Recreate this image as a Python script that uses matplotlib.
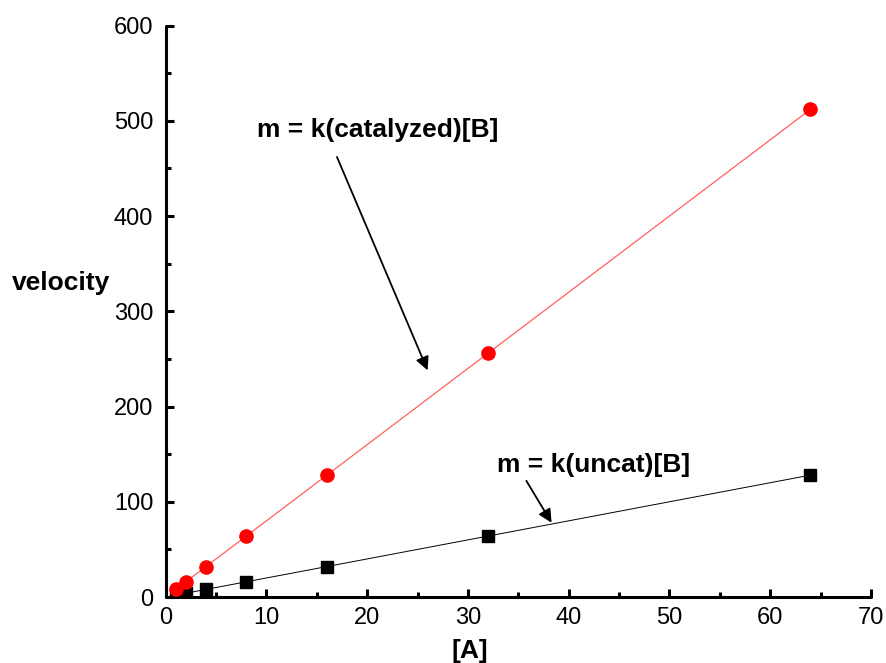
import numpy as np
import matplotlib
matplotlib.use("Agg")
import matplotlib.pyplot as plt
from matplotlib.ticker import MultipleLocator

plt.rcParams['font.family'] = ['Liberation Sans', 'DejaVu Sans']

# data
conc_a = [1, 2, 4, 8, 16, 32, 64]
v_catalyzed = [8, 16, 32, 64, 128, 256, 512]
v_uncat = [2, 4, 8, 16, 32, 64, 128]

fig = plt.figure(figsize=(8.86, 6.63), dpi=100)
ax = fig.add_axes([0.187, 0.0995, 0.796, 0.862])

# linear fits
fit_cat = np.polyfit(conc_a, v_catalyzed, 1)
fit_unc = np.polyfit(conc_a, v_uncat, 1)
xs = np.array([conc_a[0], conc_a[-1]])
ax.plot(xs, np.polyval(fit_cat, xs), color='#ff6060', lw=0.9, zorder=2)
ax.plot(xs, np.polyval(fit_unc, xs), color='black', lw=0.7, zorder=2)

ax.plot(conc_a, v_uncat, 's', color='black', ms=8, zorder=3)
ax.plot(conc_a, v_catalyzed, 'o', color='red', ms=9.5, zorder=4)

ax.set_xlim(0, 70)
ax.set_ylim(0, 600)
ax.xaxis.set_major_locator(MultipleLocator(10))
ax.xaxis.set_minor_locator(MultipleLocator(5))
ax.yaxis.set_major_locator(MultipleLocator(100))
ax.yaxis.set_minor_locator(MultipleLocator(50))

for s in ['top', 'right']:
    ax.spines[s].set_visible(False)
for s in ['left', 'bottom']:
    ax.spines[s].set_linewidth(2.2)
    ax.spines[s].set_capstyle('round')

ax.tick_params(which='major', direction='in', length=6, width=2.2, labelsize=17, pad=7)
ax.tick_params(which='minor', direction='in', length=3.5, width=2.2)
ax.tick_params(axis='y', pad=9)

ax.set_xlabel('[A]', fontsize=19, fontweight='bold', va='center')
ax.xaxis.set_label_coords(0.431, -0.094)
ax.set_ylabel('velocity', fontsize=19, fontweight='bold', rotation=0,
              ha='center', va='center')
ax.yaxis.set_label_coords(-0.149, 0.55)

ax.text(21.0, 490, 'm = k(catalyzed)[B]', fontsize=19, fontweight='bold',
        ha='center', va='center')
ax.text(42.5, 139, 'm = k(uncat)[B]', fontsize=19, fontweight='bold',
        ha='center', va='center')
arrow = dict(arrowstyle='-|>', color='black', lw=1.3, shrinkA=0, shrinkB=0,
             mutation_scale=20)
ax.annotate('', xy=(26.0, 238), xytext=(17.0, 462), arrowprops=arrow)
ax.annotate('', xy=(38.3, 78), xytext=(35.8, 122), arrowprops=arrow)

fig.savefig('out.png', dpi=100)
